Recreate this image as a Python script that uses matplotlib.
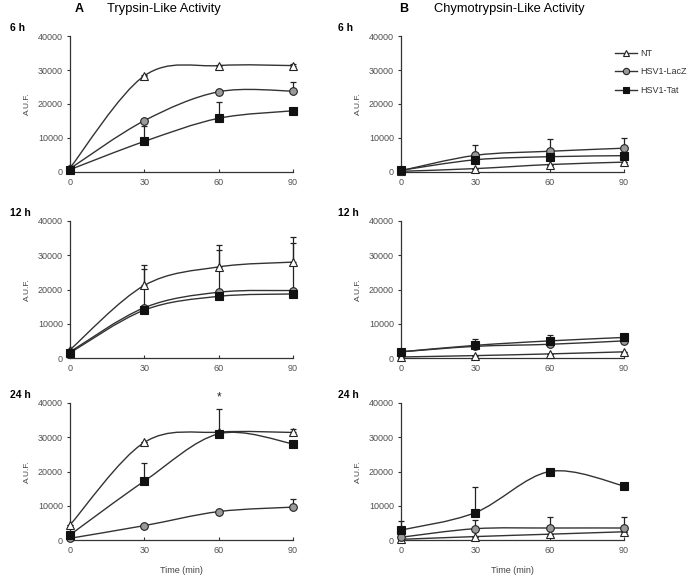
import numpy as np
import matplotlib
matplotlib.use("Agg")
import matplotlib.pyplot as plt
from matplotlib.path import Path
from matplotlib.patches import PathPatch
from matplotlib.lines import Line2D

plt.rcParams['font.family'] = ['Liberation Sans', 'DejaVu Sans']

# =========================
# Data (A.U.F. values)
# =========================
time_min = [0, 30, 60, 90]
groups = ["NT", "HSV1-LacZ", "HSV1-Tat"]
row_labels = ["6 h", "12 h", "24 h"]

# Trypsin-like activity
tryp_6h_nt = [1200, 28300, 31300, 31300]
tryp_6h_nt_err = [0, 300, 300, 400]
tryp_6h_lacz = [1000, 15100, 23600, 23800]
tryp_6h_lacz_err = [0, 0, 0, 2700]
tryp_6h_tat = [700, 9000, 15800, 18000]
tryp_6h_tat_err = [0, 4400, 4800, 0]

tryp_12h_nt = [2400, 21200, 26600, 28000]
tryp_12h_nt_err = [0, 6000, 6500, 7200]
tryp_12h_lacz = [1800, 14700, 19200, 19700]
tryp_12h_lacz_err = [0, 11300, 12300, 13800]
tryp_12h_tat = [1500, 14000, 18000, 18700]
tryp_12h_tat_err = [0, 0, 0, 0]

tryp_24h_nt = [4400, 28500, 31500, 31400]
tryp_24h_nt_err = [0, 0, 0, 1100]
tryp_24h_lacz = [500, 4200, 8300, 9600]
tryp_24h_lacz_err = [0, 0, 0, 2500]
tryp_24h_tat = [1500, 17200, 31000, 28100]
tryp_24h_tat_err = [0, 5200, 7200, 0]

# Chymotrypsin-like activity
chymo_6h_nt = [200, 1000, 2200, 2900]
chymo_6h_nt_err = [0, 0, 0, 0]
chymo_6h_lacz = [400, 4900, 6100, 7000]
chymo_6h_lacz_err = [0, 3100, 3600, 3000]
chymo_6h_tat = [500, 3600, 4500, 4800]
chymo_6h_tat_err = [0, 0, 0, 0]

chymo_12h_nt = [300, 700, 1200, 1800]
chymo_12h_nt_err = [0, 0, 0, 0]
chymo_12h_lacz = [1800, 3400, 4000, 5000]
chymo_12h_lacz_err = [0, 0, 0, 0]
chymo_12h_tat = [1800, 3700, 5000, 6000]
chymo_12h_tat_err = [0, 1900, 1600, 0]

chymo_24h_nt = [200, 1000, 1700, 2400]
chymo_24h_nt_err = [0, 0, 0, 0]
chymo_24h_lacz = [800, 3300, 3500, 3500]
chymo_24h_lacz_err = [0, 2600, 3100, 3100]
chymo_24h_tat = [2900, 8000, 20000, 15800]
chymo_24h_tat_err = [2700, 7600, 0, 0]

tryp = [
    [(tryp_6h_nt, tryp_6h_nt_err), (tryp_6h_lacz, tryp_6h_lacz_err), (tryp_6h_tat, tryp_6h_tat_err)],
    [(tryp_12h_nt, tryp_12h_nt_err), (tryp_12h_lacz, tryp_12h_lacz_err), (tryp_12h_tat, tryp_12h_tat_err)],
    [(tryp_24h_nt, tryp_24h_nt_err), (tryp_24h_lacz, tryp_24h_lacz_err), (tryp_24h_tat, tryp_24h_tat_err)],
]
chymo = [
    [(chymo_6h_nt, chymo_6h_nt_err), (chymo_6h_lacz, chymo_6h_lacz_err), (chymo_6h_tat, chymo_6h_tat_err)],
    [(chymo_12h_nt, chymo_12h_nt_err), (chymo_12h_lacz, chymo_12h_lacz_err), (chymo_12h_tat, chymo_12h_tat_err)],
    [(chymo_24h_nt, chymo_24h_nt_err), (chymo_24h_lacz, chymo_24h_lacz_err), (chymo_24h_tat, chymo_24h_tat_err)],
]

# =========================
# Styles
# =========================
LINE_COLOR = "#333333"
STYLES = {
    "NT": dict(marker="^", mfc="white", mec="#222222", ms=5.5),
    "HSV1-LacZ": dict(marker="o", mfc="#9a9a9a", mec="#222222", ms=5.5),
    "HSV1-Tat": dict(marker="s", mfc="#111111", mec="#111111", ms=5.5),
}


def smooth_path(xs, ys):
    # Excel-like smoothed line: cubic Bezier segments with Catmull-Rom tangents
    xs = np.asarray(xs, float)
    ys = np.asarray(ys, float)
    pts = np.column_stack([xs, ys])
    verts = [pts[0]]
    codes = [Path.MOVETO]
    n = len(pts)
    for i in range(n - 1):
        p0 = pts[i - 1] if i > 0 else pts[i]
        p1 = pts[i]
        p2 = pts[i + 1]
        p3 = pts[i + 2] if i + 2 < n else pts[i + 1]
        c1 = p1 + (p2 - p0) / 6.0
        c2 = p2 - (p3 - p1) / 6.0
        verts += [c1, c2, p2]
        codes += [Path.CURVE4] * 3
    return Path(verts, codes)


def draw_panel(ax, series):
    for name, (vals, err) in zip(groups, series):
        ax.add_patch(PathPatch(smooth_path(time_min, vals), fill=False,
                               edgecolor=LINE_COLOR, lw=1.0, zorder=2))
        err = np.asarray(err)
        ax.errorbar(time_min, vals, yerr=[np.zeros_like(err), err], fmt="none",
                    ecolor="#222222", elinewidth=0.9, capsize=2.5, capthick=0.9,
                    zorder=3, clip_on=False)
        ax.plot(time_min, vals, linestyle="none", mew=0.8, zorder=4,
                clip_on=False, **STYLES[name])
    ax.set_xlim(0, 90)
    ax.set_ylim(0, 40000)
    ax.set_xticks(time_min)
    ax.set_yticks([0, 10000, 20000, 30000, 40000])
    for s in ["top", "right"]:
        ax.spines[s].set_visible(False)
    for s in ["left", "bottom"]:
        ax.spines[s].set_linewidth(0.9)
        ax.spines[s].set_color("#333333")
    ax.tick_params(axis="both", labelsize=6.5, labelcolor="#505050", width=0.8,
                   length=2, color="#333333")
    ax.tick_params(axis="x", direction="in", pad=4)
    ax.tick_params(axis="y", direction="out", pad=3)
    ax.set_ylabel("A.U.F.", fontsize=6, color="#444444", labelpad=5)


# =========================
# Figure
# =========================
fig = plt.figure(figsize=(6.88, 5.77), dpi=100)
W, H = 688.0, 577.0
col_x = [(70, 293), (401, 624)]
row_y = [(36, 172), (221, 358), (403, 540)]

axes = []
for r, (yt, yb) in enumerate(row_y):
    row = []
    for c, (xl, xr) in enumerate(col_x):
        ax = fig.add_axes([xl / W, 1 - yb / H, (xr - xl) / W, (yb - yt) / H])
        draw_panel(ax, tryp[r] if c == 0 else chymo[r])
        row.append(ax)
    axes.append(row)

# row labels
for r, (yt, yb) in enumerate(row_y):
    y = 1 - (yt - 8) / H
    fig.text(10 / W, y, row_labels[r], fontsize=7.5, fontweight="bold", va="center")
    fig.text(338 / W, y, row_labels[r], fontsize=7.5, fontweight="bold", va="center")

# column titles
fig.text(75 / W, 1 - 9 / H, "A", fontsize=9, fontweight="bold", va="center")
fig.text(107 / W, 1 - 9 / H, "Trypsin-Like Activity", fontsize=9.3, va="center")
fig.text(399 / W, 1 - 9 / H, "B", fontsize=9, fontweight="bold", va="center")
fig.text(434 / W, 1 - 9 / H, "Chymotrypsin-Like Activity", fontsize=9.3, va="center")

# x labels on bottom row
for ax in axes[2]:
    ax.set_xlabel("Time (min)", fontsize=6.5, color="#444444", labelpad=8)

# significance mark
axes[2][0].text(60, 41500, "*", ha="center", va="center", fontsize=8.5,
                color="#222222", clip_on=False)

# legend
handles = [Line2D([0], [0], color=LINE_COLOR, lw=1.0, mew=0.8,
                  **dict(STYLES[g], ms=4.5)) for g in groups]
axes[0][1].legend(handles, groups, loc="upper left", bbox_to_anchor=(0.925, 0.965),
                  frameon=False, fontsize=6.5, handlelength=2.4, labelspacing=1.05,
                  handletextpad=0.3, labelcolor="#333333")

fig.savefig("out.png", dpi=100)
